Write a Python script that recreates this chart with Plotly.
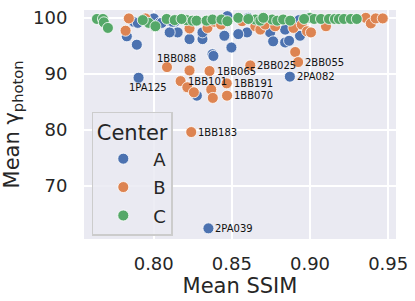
import plotly.graph_objects as go

# Center A (blue)
a_ssim = [0.7873, 0.7898, 0.7828, 0.7892, 0.8000, 0.8038, 0.8102, 0.8134, 0.8153, 0.8102,
          0.8229, 0.8312, 0.8312, 0.8452, 0.8376, 0.8382, 0.8497, 0.8471, 0.8605, 0.8597,
          0.8541, 0.8745, 0.8841, 0.8764, 0.8841, 0.8866, 0.8936, 0.8051, 0.8121, 0.7903,
          0.8871, 0.8350, 0.8276, 0.8707, 0.8930]
a_gamma = [99.3, 99.1, 96.7, 95.2, 99.9, 99.1, 99.5, 99.3, 97.4, 97.4,
           96.2, 96.2, 97.4, 96.8, 93.5, 93.2, 94.7, 100.3, 100.0, 97.4,
           97.1, 97.4, 97.9, 95.8, 95.6, 95.9, 96.8, 99.1, 99.3, 89.3,
           89.5, 62.4, 86.1, 99.5, 99.6]
a_names = ["", "", "", "", "", "", "", "", "", "",
           "", "", "", "", "", "", "", "", "", "",
           "", "", "", "", "", "", "", "", "", "1PA125",
           "2PA082", "2PA039", "", "", ""]

# Center B (orange)
b_ssim = [0.7841, 0.7820, 0.7947, 0.8229, 0.8344, 0.8389, 0.8431, 0.8565, 0.8650, 0.8682,
          0.8713, 0.8777, 0.8894, 0.8947, 0.8981, 0.8905, 0.8924, 0.8618, 0.9102, 0.9357,
          0.9389, 0.9420, 0.9465, 0.8085, 0.8229, 0.8357, 0.8172, 0.8215, 0.8257, 0.8368,
          0.8378, 0.8467, 0.8469, 0.8240, 0.9006]
b_gamma = [99.9, 97.7, 99.9, 98.1, 98.2, 99.3, 98.8, 99.4, 98.5, 97.9,
           98.8, 98.5, 98.2, 98.8, 97.6, 93.9, 92.1, 91.5, 98.5, 100.0,
           99.0, 99.9, 99.9, 91.2, 90.6, 90.5, 88.7, 87.6, 86.7, 87.2,
           85.7, 88.3, 86.1, 79.6, 97.4]
b_names = ["", "", "", "", "", "", "", "", "", "",
           "", "", "", "", "", "", "2BB055", "2BB025", "", "",
           "", "", "", "1BB088", "", "1BB065", "1BB101", "", "", "",
           "", "1BB191", "1BB070", "1BB183", ""]

# Center C (green)
c_ssim = [0.7637, 0.7675, 0.7681, 0.7707, 0.7968, 0.8011, 0.7930, 0.8210, 0.8248, 0.8274,
          0.8338, 0.8376, 0.8433, 0.8471, 0.8541, 0.8650, 0.8682, 0.8758, 0.8790, 0.8828,
          0.8873, 0.9000, 0.9026, 0.9070, 0.9121, 0.9159, 0.9185, 0.9217, 0.9261, 0.9299,
          0.8083, 0.8134, 0.8178, 0.8701, 0.8605, 0.8962]
c_gamma = [99.8, 99.8, 99.2, 98.2, 99.1, 98.5, 99.6, 99.6, 99.5, 99.5,
           99.5, 99.7, 99.7, 99.4, 100.0, 99.7, 99.5, 99.7, 99.5, 99.7,
           99.5, 100.0, 99.8, 99.8, 99.8, 99.8, 99.8, 99.8, 99.8, 99.8,
           99.8, 99.6, 99.8, 100.0, 99.8, 99.8]

centers = ["A", "B", "C"]
colors = ["#4C72B0", "#DD8452", "#55A868"]

# label offsets (pixels) for names placed with special alignment
special = {"1PA125": (9, 10, "center"), "1BB088": (9, -9, "center")}

fig = go.Figure()
series = [(a_ssim, a_gamma), (b_ssim, b_gamma), (c_ssim, c_gamma)]
for name, col, (xs, ys) in zip(centers, colors, series):
    fig.add_trace(go.Scatter(
        x=xs, y=ys, mode="markers", name=name, legendgroup=name,
        marker=dict(color=col, size=11, line=dict(color="white", width=0.8)),
    ))

for xs, ys, names in [(a_ssim, a_gamma, a_names), (b_ssim, b_gamma, b_names)]:
    for x, y, n in zip(xs, ys, names):
        if not n:
            continue
        if n in special:
            dx, dy, anc = special[n]
        else:
            dx, dy, anc = 5, 0, "left"
        fig.add_annotation(x=x, y=y, text=n, showarrow=False, xanchor=anc,
                           yanchor="middle", xshift=dx, yshift=-dy,
                           font=dict(family="DejaVu Sans", size=10, color="#111111"))

fig.update_layout(
    width=415, height=301,
    margin=dict(l=84, r=17, t=7, b=62),
    plot_bgcolor="#EAEAF2", paper_bgcolor="white",
    font=dict(family="DejaVu Sans", color="#262626"),
    showlegend=True,
    legend=dict(
        title=dict(text="Center", font=dict(size=21, color="#262626"), side="top center"),
        font=dict(size=18, color="#262626"),
        x=0.025, y=0.556, xanchor="left", yanchor="top",
        bgcolor="rgba(234,234,242,0.85)", bordercolor="#CCCCCC", borderwidth=1.5,
        itemwidth=50, tracegroupgap=2,
    ),
)
fig.update_xaxes(
    range=[0.7554, 0.955], tickvals=[0.80, 0.85, 0.90, 0.95],
    ticktext=["0.80", "0.85", "0.90", "0.95"],
    showgrid=True, gridcolor="white", gridwidth=1.5, zeroline=False,
    showline=False, ticks="outside", ticklen=8, tickcolor="rgba(0,0,0,0)",
    tickfont=dict(size=18), title=dict(text="Mean SSIM", font=dict(size=21), standoff=4),
)
fig.update_yaxes(
    range=[60.5, 101.4], tickvals=[70, 80, 90, 100],
    showgrid=True, gridcolor="white", gridwidth=1.5, zeroline=False,
    showline=False, ticks="outside", ticklen=12, tickcolor="rgba(0,0,0,0)",
    tickfont=dict(size=18), title=dict(text="Mean γ<sub>photon</sub>", font=dict(size=21), standoff=8),
)

fig.write_html("out.html", config={"displayModeBar": False},
               post_script="document.body.style.margin='0';")
